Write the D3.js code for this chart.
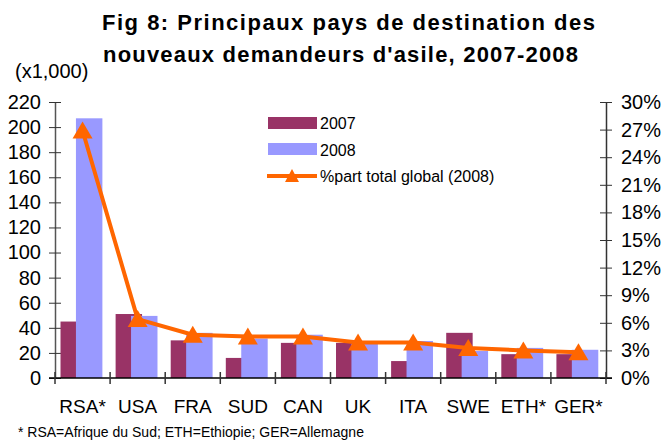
<!DOCTYPE html>
<html>
<head>
<meta charset="utf-8">
<script src="https://cdn.jsdelivr.net/npm/d3@7"></script>
<style>
  html, body { margin: 0; padding: 0; background: #fff; }
  svg { display: block; font-family: "Liberation Sans", Arial, sans-serif; }
</style>
</head>
<body>
<svg id="chart" width="662" height="445"></svg>
<script>
const categories = ["RSA*", "USA", "FRA", "SUD", "CAN", "UK", "ITA", "SWE", "ETH*", "GER*"];
const values2007 = [45, 51, 30, 16, 28, 28, 13.5, 36, 19, 19];
const values2008 = [207, 49.5, 36, 31.5, 34.5, 27.5, 29.5, 21.5, 24, 22.5];
const shareTotal2008 = [26.9, 6.4, 4.7, 4.5, 4.5, 3.85, 3.85, 3.25, 3.0, 2.8];
const leftTicks = [0, 20, 40, 60, 80, 100, 120, 140, 160, 180, 200, 220];
const rightTicks = [0, 3, 6, 9, 12, 15, 18, 21, 24, 27, 30];
const titleLines = ["Fig 8: Principaux pays de destination des", "nouveaux demandeurs d'asile, 2007-2008"];
const legendLabels = ["2007", "2008", "%part total global (2008)"];
const unitLabel = "(x1,000)";
const footnote = "* RSA=Afrique du Sud; ETH=Ethiopie; GER=Allemagne";

const col2007 = "#993366", col2008 = "#9999FF", colLine = "#FF6600";
const svg = d3.select("#chart");
const L = 55, R = 606, T = 102, B = 378;

const x = d3.scaleBand().domain(categories).range([L, R]).padding(0);
const yL = d3.scaleLinear().domain([0, 220]).range([B, T]);
const yR = d3.scaleLinear().domain([0, 30]).range([B, T]);
const bw = x.bandwidth();

// Title
const titleX = [102, 103], titleW = [493, 475];
svg.append("g").selectAll("text").data(titleLines).join("text")
  .attr("x", (d, i) => titleX[i]).attr("y", (d, i) => 30 + i * 32)
  .attr("textLength", (d, i) => titleW[i]).attr("lengthAdjust", "spacing")
  .attr("font-weight", "bold").attr("font-size", 22)
  .attr("fill", "#000").text(d => d);

svg.append("text").attr("x", 15).attr("y", 78).attr("font-size", 20).text(unitLabel);

// Left axis
const gL = svg.append("g").attr("transform", `translate(${L},0)`)
  .call(d3.axisLeft(yL).tickValues(leftTicks).tickSize(6).tickPadding(9).tickSizeOuter(0));
gL.select(".domain").attr("stroke", "#555").attr("stroke-width", 1.5);
gL.selectAll(".tick line").attr("stroke", "#333").attr("x2", 6).attr("x1", -6);
gL.selectAll(".tick text").attr("font-size", 20).attr("font-family", "Liberation Sans, Arial").attr("fill", "#000").attr("x", -14);

// Right axis
const gR = svg.append("g").attr("transform", `translate(${R},0)`)
  .call(d3.axisRight(yR).tickValues(rightTicks).tickFormat(d => d + "%").tickSize(6).tickPadding(10).tickSizeOuter(0));
gR.select(".domain").attr("stroke", "#333").attr("stroke-width", 1.5);
gR.selectAll(".tick line").attr("stroke", "#333").attr("x1", -6).attr("x2", 6);
gR.selectAll(".tick text").attr("font-size", 20).attr("font-family", "Liberation Sans, Arial").attr("fill", "#000").attr("x", 15);

// Bars
svg.append("g").selectAll("rect").data(categories).join("rect")
  .attr("x", d => x(d) + bw * 0.10).attr("width", bw * 0.48)
  .attr("y", (d, i) => yL(values2007[i])).attr("height", (d, i) => B - yL(values2007[i]))
  .attr("fill", col2007);
svg.append("g").selectAll("rect").data(categories).join("rect")
  .attr("x", d => x(d) + bw * 0.38).attr("width", bw * 0.48)
  .attr("y", (d, i) => yL(values2008[i])).attr("height", (d, i) => B - yL(values2008[i]))
  .attr("fill", col2008);

// X axis
const gX = svg.append("g").attr("transform", `translate(0,${B})`);
gX.append("line").attr("x1", 49).attr("x2", R + 6).attr("stroke", "#000").attr("stroke-width", 1.5);
const bounds = categories.map(c => x(c)).concat([R]);
gX.selectAll("line.tk").data(bounds).join("line").attr("class", "tk")
  .attr("x1", d => d).attr("x2", d => d).attr("y1", -6).attr("y2", 6)
  .attr("stroke", "#333").attr("stroke-width", 1.5);
gX.selectAll("text").data(categories).join("text")
  .attr("x", d => x(d) + bw / 2).attr("y", 35)
  .attr("text-anchor", "middle").attr("font-size", 19).text(d => d);

// Line + markers
const tri = "M0,-9L10,8L-10,8Z";
svg.append("path").datum(shareTotal2008)
  .attr("d", d3.line().x((d, i) => x(categories[i]) + bw / 2).y(d => yR(d)))
  .attr("fill", "none").attr("stroke", colLine).attr("stroke-width", 4).attr("stroke-linejoin", "round");
svg.append("g").selectAll("path").data(shareTotal2008).join("path")
  .attr("transform", (d, i) => `translate(${x(categories[i]) + bw / 2},${yR(d)})`)
  .attr("d", tri).attr("fill", colLine);

// Legend
const lg = svg.append("g");
lg.append("rect").attr("x", 268).attr("y", 117).attr("width", 49).attr("height", 12).attr("fill", col2007);
lg.append("rect").attr("x", 268).attr("y", 143).attr("width", 49).attr("height", 12).attr("fill", col2008);
lg.append("line").attr("x1", 267).attr("x2", 317).attr("y1", 176).attr("y2", 176).attr("stroke", colLine).attr("stroke-width", 4);
lg.append("path").attr("transform", "translate(292,176)").attr("d", "M0,-7L7,6L-7,6Z").attr("fill", colLine);
lg.selectAll("text").data(legendLabels).join("text")
  .attr("x", 320).attr("y", (d, i) => 129 + i * 26.5).attr("font-size", 16).text(d => d);

// Footnote
svg.append("text").attr("x", 18).attr("y", 437).attr("font-size", 14).text(footnote);
</script>
</body>
</html>
